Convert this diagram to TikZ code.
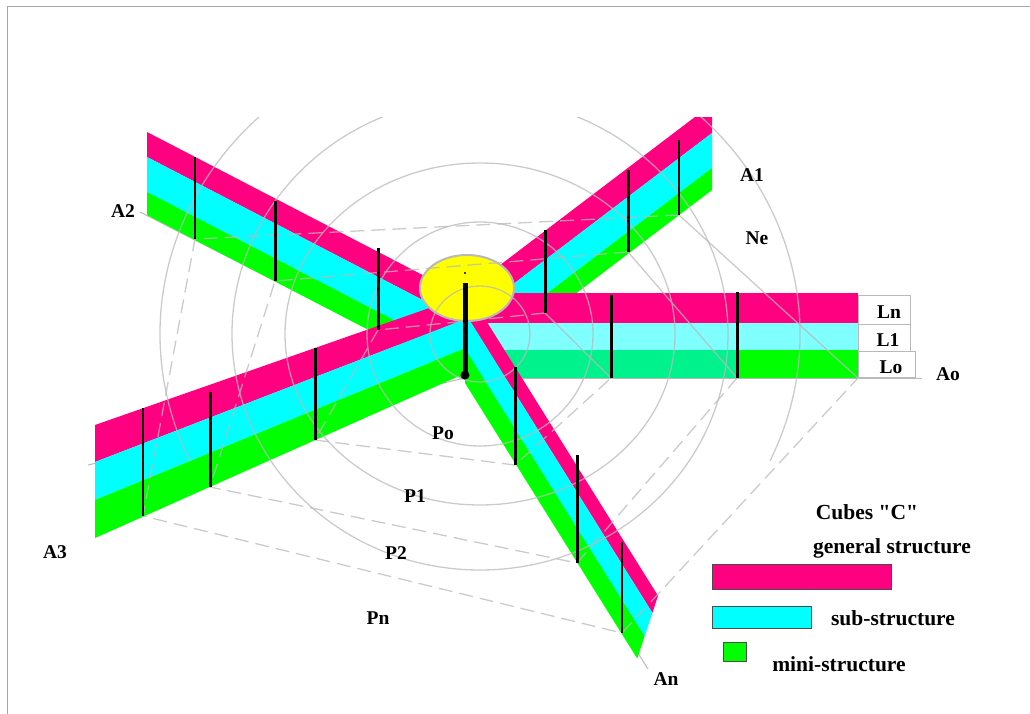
\documentclass[tikz,border=0pt]{standalone}
\usepackage{fontspec}
\setmainfont{Liberation Serif}[Ligatures=TeXOff]
\definecolor{bandpink}{RGB}{255,0,128}
\definecolor{bandcyan}{RGB}{0,255,255}
\definecolor{bandgreen}{RGB}{0,255,0}
\definecolor{palecyan}{RGB}{128,255,255}
\definecolor{mint}{RGB}{0,242,140}
\definecolor{hubyellow}{RGB}{255,255,0}
\definecolor{wire}{RGB}{185,185,185}
\tikzset{
  lbl/.style={font=\fontsize{19.5}{21}\selectfont\bfseries, inner sep=0pt},
  legtext/.style={font=\fontsize{21.5}{23}\selectfont\bfseries, inner sep=0pt},
  orbit/.style={draw=wire, line width=1.3pt, opacity=0.75},
  ring/.style={draw=wire, line width=1.3pt, dash pattern=on 14pt off 7pt, opacity=0.75},
  spoke/.style={draw=wire, line width=1.3pt, opacity=0.75},
  cell/.style={draw=wire, line width=1pt},
  tick/.style={line width=3pt},
  thintick/.style={line width=1.8pt},
  legbox/.style={draw=black!70, line width=1pt},
}
\begin{document}
\begin{tikzpicture}[x=1pt,y=-1pt]
        \useasboundingbox (0,0) rectangle (1030,714);
        % Draw frame
        \draw[gray!70, line width=1pt] (7,714) -- (7,7) -- (1030,7);
        % Draw axes
        \coordinate (hub) at (465,378);
        \coordinate (axAo) at (922,378);
        \coordinate (axAn) at (648,669);
        \coordinate (axAthree) at (88,465);
        \coordinate (axAtwo) at (140,212);
        \draw[wire, line width=1pt] (hub) -- (axAo);
        \draw[wire, line width=1pt] (hub) -- (axAn);
        \draw[wire, line width=1pt] (hub) -- (axAthree);
        \draw[wire, line width=1pt] (hub) -- (axAtwo);
        % Draw cells next to Ao
        \draw[cell] (858,295) rectangle (910,324);
        \draw[cell] (858,324) rectangle (910,351);
        \draw[cell] (858,351) rectangle (915,377);
        \begin{scope}
        \clip (0,118) rectangle (1030,714);
        % Draw arm A2
        \fill[bandpink] (147,132) -- (465,297) -- (465,322) -- (147,157) -- cycle;
        \fill[bandcyan] (147,157) -- (465,322) -- (465,357) -- (147,192) -- cycle;
        \fill[bandgreen] (147,192) -- (465,357) -- (465,380) -- (147,215) -- cycle;
        % Draw arm A3
        \fill[bandpink] (95,425) -- (465,295.5) -- (465,319.2) -- (95,462) -- cycle;
        \fill[bandcyan] (95,462) -- (465,319.2) -- (465,348.3) -- (95,500) -- cycle;
        \fill[bandgreen] (95,500) -- (465,348.3) -- (465,373.4) -- (95,538) -- cycle;
        % Draw arm A1
        \fill[bandpink] (712,104) -- (465,291.7) -- (465,320.7) -- (712,133) -- cycle;
        \fill[bandcyan] (712,133) -- (465,320.7) -- (465,355.7) -- (712,168) -- cycle;
        \fill[bandgreen] (712,168) -- (465,355.7) -- (465,377.7) -- (712,190) -- cycle;
        % Draw arm Ao
        \fill[bandpink] (465,293) rectangle (858,323);
        \fill[palecyan] (465,323) rectangle (858,350);
        \fill[mint] (465,350) rectangle (737,378);
        \fill[bandgreen] (737,350) rectangle (858,378);
        % Draw arm An
        \fill[bandpink] (465,287) -- (658,595.8) -- (652.4,612.9) -- (465,313) -- cycle;
        \fill[bandcyan] (465,313) -- (652.4,612.9) -- (644.6,636.3) -- (465,349) -- cycle;
        \fill[bandgreen] (465,349) -- (644.6,636.3) -- (637.2,658.5) -- (465,383) -- cycle;
        % Draw yellow centre
        \draw[fill=hubyellow, draw=wire, line width=2pt] (467,288) ellipse [x radius=47, y radius=33];
        % Draw circles
        \draw[orbit] (480,334) ellipse [x radius=50, y radius=48];
        \draw[orbit] (480,334) ellipse [x radius=113, y radius=112];
        \draw[orbit] (480,334) ellipse [x radius=195, y radius=171];
        \draw[orbit] (480,334) ellipse [x radius=248, y radius=236];
        \draw[orbit] (770,460.8) arc [start angle=25, end angle=-205, x radius=320, y radius=300];
        \end{scope}
        % Draw ticks
        \coordinate (atwoA) at (195,157);  \coordinate (atwoB) at (195,239);
        \coordinate (atwoC) at (275,201);  \coordinate (atwoD) at (275,281);
        \coordinate (atwoE) at (378,248);  \coordinate (atwoF) at (378,330);
        \coordinate (aoneA) at (545,230);  \coordinate (aoneB) at (545,313);
        \coordinate (aoneC) at (628,170);  \coordinate (aoneD) at (628,252);
        \coordinate (aoneE) at (679,140);  \coordinate (aoneF) at (679,215);
        \coordinate (aoA) at (611,295);    \coordinate (aoB) at (611,378);
        \coordinate (aoC) at (737,292);    \coordinate (aoD) at (737,378);
        \coordinate (aoEnd) at (858,378);
        \coordinate (athreeA) at (143,408); \coordinate (athreeB) at (143,516);
        \coordinate (athreeC) at (210,392); \coordinate (athreeD) at (210,487);
        \coordinate (athreeE) at (315,348); \coordinate (athreeF) at (315,440);
        \coordinate (anA) at (515,367);    \coordinate (anB) at (515,465);
        \coordinate (anC) at (577,455);    \coordinate (anD) at (577,563);
        \coordinate (anE) at (622,542);    \coordinate (anF) at (622,633);
        % Draw dashed rings
        \draw[ring] (aoneB) -- (atwoF) -- (athreeF) -- (anB) -- (aoB);
        \draw[ring] (aoneD) -- (atwoD) -- (athreeD) -- (anD) -- (aoD);
        \draw[ring] (aoneF) -- (atwoB) -- (athreeB) -- (anF) -- (aoEnd);
        \draw[spoke] (aoneB) -- (aoB);
        \draw[spoke] (aoneD) -- (aoD);
        \draw[spoke] (aoneF) -- (aoEnd);
        \draw[thintick] (atwoA) -- (atwoB);
        \draw[tick] (atwoC) -- (atwoD);
        \draw[tick] (atwoE) -- (atwoF);
        \draw[tick] (aoneA) -- (aoneB);
        \draw[tick] (aoneC) -- (aoneD);
        \draw[thintick] (aoneE) -- (aoneF);
        \draw[tick] (aoA) -- (aoB);
        \draw[tick] (aoC) -- (aoD);
        \draw[thintick] (athreeA) -- (athreeB);
        \draw[tick] (athreeC) -- (athreeD);
        \draw[tick] (athreeE) -- (athreeF);
        \draw[tick] (anA) -- (anB);
        \draw[tick] (anC) -- (anD);
        \draw[thintick] (anE) -- (anF);
        % Draw centre stem
        \coordinate (stemtop) at (465,283);
        \coordinate (stembot) at (465,375);
        \draw[line width=5pt] (stemtop) -- (stembot);
        \fill (stembot) circle (4.5);
        \fill (465,273) circle (1.2);
        % Draw labels
        \node[lbl] (lAone) at (752,175) {A1};
        \node[lbl] (lAtwo) at (123,211) {A2};
        \node[lbl] (lAthree) at (55,552) {A3};
        \node[lbl] (lAo) at (948,374) {Ao};
        \node[lbl] (lAn) at (666,679) {An};
        \node[lbl] (lNe) at (757,238) {Ne};
        \node[lbl] (lLn) at (889,312) {Ln};
        \node[lbl] (lLone) at (888,340) {L1};
        \node[lbl] (lLo) at (891,367) {Lo};
        \node[lbl] (lPo) at (443,433) {Po};
        \node[lbl] (lPone) at (415,496) {P1};
        \node[lbl] (lPtwo) at (396,553) {P2};
        \node[lbl] (lPn) at (378,618) {Pn};
        % Draw legend
        \node[legtext] (legtitle) at (867,512) {Cubes "C"};
        \node[legtext] (leggen) at (892,548) {general structure};
        \draw[legbox, fill=bandpink] (712,564) rectangle (891,589);
        \draw[legbox, fill=bandcyan] (712,606) rectangle (811,628);
        \node[legtext] (legsub) at (893,618) {sub-structure};
        \draw[legbox, fill=bandgreen] (723,642) rectangle (746,661);
        \node[legtext] (legmini) at (839,664) {mini-structure};
    \end{tikzpicture}
\end{document}
